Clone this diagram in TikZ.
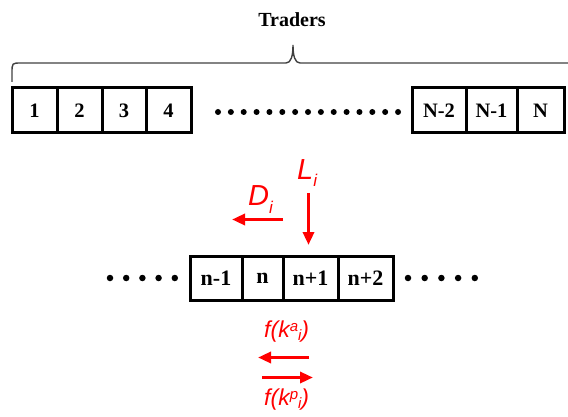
\documentclass[tikz,border=0pt]{standalone}
\usepackage{fontspec}
\setmainfont{Liberation Serif}
\newfontfamily\arialfont{Liberation Sans}
\usetikzlibrary{arrows.meta}
\newcommand{\myfk}[1]{f(k\raisebox{5.5pt}{\fontsize{15}{15}\selectfont #1}\raisebox{-3pt}{\fontsize{15}{15}\selectfont i})}
\newcommand{\mysub}[2]{#1\raisebox{-7pt}{\fontsize{17}{17}\selectfont #2}}
\tikzset{
  cell/.style={draw=black, line width=3pt, minimum height=45pt, inner sep=0pt, outer sep=0pt,
    font=\fontsize{20.5}{20.5}\selectfont\bfseries},
  midcell/.style={cell, minimum height=44pt, font=\fontsize{22}{22}\selectfont\bfseries},
  dotmark/.style={circle, fill=black, minimum size=6pt, inner sep=0pt},
  redlbl/.style={text=red, inner sep=0pt, font=\arialfont\itshape},
  redarrow/.style={draw=red, line width=3.8pt, -{Triangle[length=13pt,width=11pt]}},
  bracestyle/.style={draw=black!75, line width=1.4pt}
}
\begin{document}
\begin{tikzpicture}[x=1pt,y=-1pt]
\useasboundingbox (0,0) rectangle (568,417);
\clip (0,0) rectangle (568,417);
% title and brace
\node[inner sep=0pt, font=\fontsize{20}{20}\selectfont\bfseries] (title) at (292,20) {Traders};
\coordinate (bl) at (12,82);
\coordinate (br) at (574,82);
\coordinate (btip) at (293,45);
\draw[bracestyle] (bl) -- (12,73) .. controls (12,63) .. (21,63) -- (286,63)
  .. controls (291,63) and (293,56) .. (btip)
  .. controls (293,56) and (295,63) .. (300,63) -- (565,63)
  .. controls (574,63) .. (574,73) -- (br);
% top row
\node[cell, minimum width=45pt] (c1) at (34.5,110.5) {1};
\node[cell, minimum width=45pt] (c2) at (79.5,110.5) {2};
\node[cell, minimum width=44pt] (c3) at (124,110.5) {3};
\node[cell, minimum width=45pt] (c4) at (168.5,110.5) {4};
\node[cell, minimum width=54pt] (cN2) at (439,110.5) {N-2};
\node[cell, minimum width=51pt] (cN1) at (491.5,110.5) {N-1};
\node[cell, minimum width=47pt] (cN) at (540.5,110.5) {N};
\foreach \i in {0,...,14} {
  \node[dotmark] (td\i) at ({218+\i*12.86},112) {};
}
% middle row
\node[midcell, minimum width=52pt] (m1) at (216,278) {n-1};
\node[midcell, minimum width=41pt] (m2) at (262.5,278) {n};
\node[midcell, minimum width=55pt] (m3) at (310.5,278) {n+1};
\node[midcell, minimum width=55pt] (m4) at (365.5,278) {n+2};
\foreach \i in {0,...,4} {
  \node[dotmark, minimum size=6.5pt] (ld\i) at ({110+\i*16.2},278) {};
  \node[dotmark, minimum size=6.5pt] (rd\i) at ({408+\i*16.7},278) {};
}
% red labels and arrows
\node[redlbl, anchor=base west, font=\arialfont\itshape\fontsize{29}{29}\selectfont] (Li) at (297,180) {\mysub{L}{i}};
\node[redlbl, anchor=base west, font=\arialfont\itshape\fontsize{29}{29}\selectfont] (Di) at (248,206) {\mysub{D}{i}};
\coordinate (LiA) at (308.5,193);
\coordinate (LiB) at (308.5,245);
\draw[redarrow] (LiA) -- (LiB);
\coordinate (DiA) at (283,219.5);
\coordinate (DiB) at (232,219.5);
\draw[redarrow] (DiA) -- (DiB);
\node[redlbl, anchor=base west, font=\arialfont\itshape\fontsize{23}{23}\selectfont] (fka) at (264,337) {\myfk{a}};
\node[redlbl, anchor=base west, font=\arialfont\itshape\fontsize{23}{23}\selectfont] (fkp) at (264,405) {\myfk{p}};
\coordinate (kaA) at (309,357.5);
\coordinate (kaB) at (258,357.5);
\draw[redarrow] (kaA) -- (kaB);
\coordinate (kpA) at (262,377.5);
\coordinate (kpB) at (313,377.5);
\draw[redarrow] (kpA) -- (kpB);
\end{tikzpicture}
\end{document}
